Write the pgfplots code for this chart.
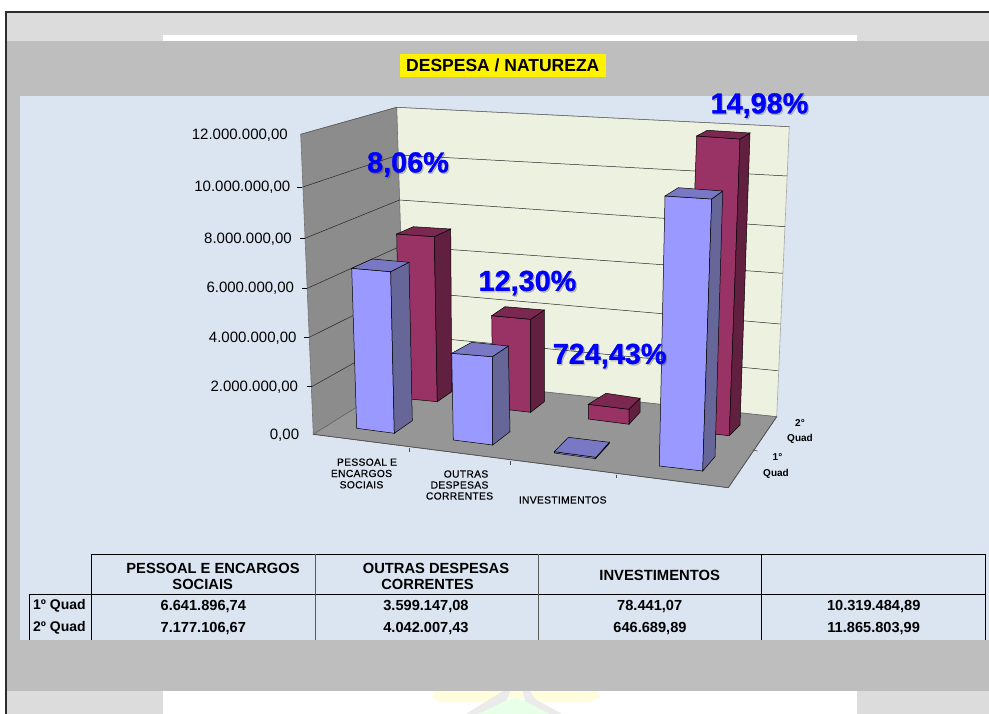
\documentclass[border=0pt]{standalone}
\usepackage{pgfplots}
\pgfplotsset{compat=1.18}
\usepackage{fontspec}
\setmainfont{Liberation Sans}
\newfontfamily\lab{Liberation Sans}[BoldFeatures={FakeBold=1.1}]
\newfontfamily\spc{Liberation Sans}[LetterSpace=3,FakeBold=0.5]
\definecolor{lg}{HTML}{DCDCDC}
\definecolor{mg}{HTML}{BEBEBE}
\definecolor{pale}{HTML}{DBE5F1}
\definecolor{backw}{HTML}{EDF1E0}
\definecolor{sidew}{HTML}{8C8C8C}
\definecolor{floorc}{HTML}{969696}
\definecolor{bf}{HTML}{9999FF}
\definecolor{bs}{HTML}{666699}
\definecolor{bt}{HTML}{7878C4}
\definecolor{mf}{HTML}{993366}
\definecolor{ms}{HTML}{622040}
\definecolor{mt}{HTML}{7A284F}
\newcommand{\fs}[1]{\fontsize{#1}{#1}\selectfont}
% one 3D bar: front, side, top faces, in picture coordinates
\newcommand{\barf}[6]{%
 \addplot[fill=#1,draw=black,line width=.5pt] coordinates {#4} --cycle;
 \addplot[fill=#2,draw=black,line width=.5pt] coordinates {#5} --cycle;
 \addplot[fill=#3,draw=black,line width=.5pt] coordinates {#6} --cycle;}
\newcommand{\pct}[3]{\node[text=black,text opacity=.2,font=\lab\bfseries\fs{28.8}] at (#1+1.2,#2+1.4) {#3};%
 \node[text=blue,font=\lab\bfseries\fs{28.8}] at (#1,#2) {#3};}
\begin{document}
\begin{tikzpicture}
\begin{axis}[scale only axis,width=989pt,height=714pt,xmin=0,xmax=989,ymin=0,ymax=714,
 y dir=reverse,hide axis,clip=true]
% slide background
\addplot[fill=white,draw=none] coordinates {(0,0)(989,0)(989,714)(0,714)} --cycle;
\addplot[fill=lg,draw=none] coordinates {(6,12)(989,12)(989,714)(6,714)} --cycle;
\addplot[fill=white,draw=none] coordinates {(163,35)(857,35)(857,41)(163,41)} --cycle;
\addplot[fill=mg,draw=none] coordinates {(6,41)(989,41)(989,691)(6,691)} --cycle;
\addplot[fill=pale,draw=none] coordinates {(20,96)(989,96)(989,640)(20,640)} --cycle;
\addplot[fill=white,draw=none] coordinates {(163,691)(857,691)(857,714)(163,714)} --cycle;
% faint logo
\addplot[fill=yellow!14!white,draw=none] coordinates {(436,691)(598,691)(600,697)(590,702)(540,702)(525,698)(505,698)(490,702)(440,702)(432,697)} --cycle;
\addplot[fill=green!9!white,draw=none] coordinates {(470,714)(500,702)(515,698)(530,702)(562,714)} --cycle;
\addplot[fill=violet!14!black!8!white,draw=none] coordinates {(503,691)(510,691)(507,700)(478,714)(466,714)(490,699)} --cycle;
\addplot[fill=violet!14!black!8!white,draw=none] coordinates {(523,691)(530,691)(535,699)(562,714)(550,714)(525,701)} --cycle;
\addplot[draw={rgb,255:red,45;green,45;blue,45},line width=2pt] coordinates {(6,714)(6,12)(989,12)};
% walls and floor
\addplot[fill=backw,draw=black!35,line width=.6pt] coordinates {(396.7,107.3)(789.3,126.7)(776.7,416.7)(405,377)} --cycle;
\addplot[fill=sidew,draw=black!55,line width=.6pt] coordinates {(300.7,134.3)(396.7,107.3)(405,377)(313.3,434.3)} --cycle;
\addplot[fill=floorc,draw=black!60,line width=.6pt] coordinates {(313.3,434.3)(405,377)(776.7,416.7)(728.3,487.7)} --cycle;
% gridlines: side wall then back wall
\foreach \a/\b/\c/\d/\e/\f in {
 302/187.3/398/155/787.3/176,
 305/238.3/399.5/200/785/226.7,
 307.3/288.3/401/246/782.7/273.3,
 309.3/337.3/402.3/291/780/324,
 311.7/386.7/403.7/335/777.7/370.7}{
 \edef\tmp{\noexpand\addplot[black!85,line width=.5pt] coordinates {(\a,\b)(\c,\d)(\e,\f)};
  \noexpand\addplot[black,line width=.6pt] coordinates {(\a-5,\b)(\a,\b)};}
 \tmp
}
\addplot[black!65,line width=.5pt] coordinates {(300.7,134.3)(396.7,107.3)(789.3,126.7)};
\addplot[black!70,line width=.6pt] coordinates {(313.3,434.3)(728.3,487.7)(776.7,416.7)};
\addplot[black!70,line width=.6pt] coordinates {(409.3,448)(409.3,452)};
\addplot[black!70,line width=.6pt] coordinates {(510,460.7)(510,464.5)};
\addplot[black!70,line width=.6pt] coordinates {(616.7,474.5)(616.7,478)};
\addplot[black!70,line width=.6pt] coordinates {(753,450)(757.5,451)};
% maroon (2º Quad) bars
\barf{mf}{ms}{mt}
 {(396.7,234)(434.3,236.7)(437.3,401.7)(399.5,398)}
 {(434.3,236.7)(450.7,229)(451.7,391.7)(437.3,401.7)}
 {(396.7,234)(413.3,226.7)(450.7,229)(434.3,236.7)}
\barf{mf}{ms}{mt}
 {(491.7,315.7)(530.7,319.3)(530.7,412.3)(493,408)}
 {(530.7,319.3)(544.3,310)(544.3,401.7)(530.7,412.3)}
 {(491.7,315.7)(505,306.7)(544.3,310)(530.7,319.3)}
\barf{mf}{ms}{mt}
 {(588.3,404.3)(629,409.3)(629,424.3)(588.3,419)}
 {(629,409.3)(640,398.3)(640,412.3)(629,424.3)}
 {(588.3,404.3)(606,393.3)(640,398.3)(629,409.3)}
\barf{mf}{ms}{mt}
 {(696.7,136)(740,139)(729.3,435.7)(686,431)}
 {(740,139)(750,133)(740,425)(729.3,435.7)}
 {(696.7,136)(707.3,130.3)(750,133)(740,139)}
% blue (1º Quad) bars
\barf{bf}{bs}{bt}
 {(351.7,268.3)(390.7,271.7)(394.3,433.3)(356.7,428.3)}
 {(390.7,271.7)(409,262.3)(412.3,420.7)(394.3,433.3)}
 {(351.7,268.3)(372.3,259)(409,262.3)(390.7,271.7)}
\barf{bf}{bs}{bt}
 {(451.7,353.3)(492.3,356.7)(492.7,445)(453.3,440)}
 {(492.3,356.7)(508.3,346)(510,431.7)(492.7,445)}
 {(451.7,353.3)(471.7,342.3)(508.3,346)(492.3,356.7)}
\barf{bf}{bs}{bt}
 {(554.3,451.7)(596,457.3)(595.5,458.6)(554.3,453)}
 {(596,457.3)(609.3,442.3)(609.3,443.5)(595.5,458.6)}
 {(554.3,451.7)(568.3,437.3)(609.3,442.3)(596,457.3)}
\barf{bf}{bs}{bt}
 {(665,196)(711.7,199)(702.7,471)(659.3,466)}
 {(711.7,199)(722.7,191)(715,456.7)(702.7,471)}
 {(665,196)(678.3,187.7)(722.7,191)(711.7,199)}
% axis numbers
\node[anchor=east,inner sep=0,font=\fs{15}] at (288,135) {12.000.000,00};
\node[anchor=east,inner sep=0,font=\fs{15}] at (290.5,187) {10.000.000,00};
\node[anchor=east,inner sep=0,font=\fs{15}] at (292,239) {8.000.000,00};
\node[anchor=east,inner sep=0,font=\fs{15}] at (294.3,288.5) {6.000.000,00};
\node[anchor=east,inner sep=0,font=\fs{15}] at (296.7,338) {4.000.000,00};
\node[anchor=east,inner sep=0,font=\fs{15}] at (298.3,387) {2.000.000,00};
\node[anchor=east,inner sep=0,font=\fs{15}] at (299.3,435) {0,00};
% category labels
\node[align=center,font=\spc\fontsize{10.3}{11.3}\selectfont,inner sep=0] at (361.5,473.5) {\hspace{11pt}PESSOAL E\\ENCARGOS\\SOCIAIS};
\node[align=center,font=\spc\fontsize{10.3}{11}\selectfont,inner sep=0] at (459.5,485) {\hspace{13pt}OUTRAS\\DESPESAS\\CORRENTES};
\node[font=\spc\fs{10.3},inner sep=0] at (562.7,500) {INVESTIMENTOS};
\node[font=\bfseries\fs{10},inner sep=0] at (800,423.3) {2°};
\node[font=\bfseries\fs{10},inner sep=0] at (800,439.3) {Quad};
\node[font=\bfseries\fs{10},inner sep=0] at (777.5,457.3) {1°};
\node[font=\bfseries\fs{10},inner sep=0] at (776,474) {Quad};
% title
\node[fill=yellow,minimum width=205.7pt,minimum height=23pt,inner sep=0,font=\bfseries\fs{17.5}] at (502.8,65.5) {DESPESA / NATUREZA};
% percentages
\pct{759.5}{105.5}{14,98\%}
\pct{408}{164.5}{8,06\%}
\pct{527.5}{283}{12,30\%}
\pct{609.7}{356}{724,43\%}
% table
\addplot[black,line width=.9pt] coordinates {(91,640)(91,554.3)(985.7,554.3)(985.7,640)};
\addplot[black,line width=.9pt] coordinates {(29.5,640)(29.5,594.3)(985.7,594.3)};
\addplot[black!65,line width=.9pt] coordinates {(315,554.3)(315,640)};
\addplot[black!65,line width=.9pt] coordinates {(538.3,554.3)(538.3,640)};
\addplot[black,line width=.9pt] coordinates {(761.7,554.3)(761.7,640)};
\node[align=center,font=\bfseries\fontsize{14.7}{16}\selectfont,inner sep=0] at (213,576) {PESSOAL E ENCARGOS\\\hspace{-20.6pt}SOCIAIS};
\node[align=center,font=\bfseries\fontsize{14.7}{16}\selectfont,inner sep=0] at (436,576) {OUTRAS DESPESAS\\\hspace{-17pt}CORRENTES};
\node[font=\bfseries\fs{14.8},inner sep=0] at (659.7,575) {INVESTIMENTOS};
\node[font=\bfseries\fs{14},inner sep=0] at (59.5,605.7) {1º Quad};
\node[font=\bfseries\fs{14},inner sep=0] at (59.5,628.3) {2º Quad};
\node[font=\bfseries\fs{14.6},inner sep=0] at (203.3,606.5) {6.641.896,74};
\node[font=\bfseries\fs{14.6},inner sep=0] at (203.3,629) {7.177.106,67};
\node[font=\bfseries\fs{14.6},inner sep=0] at (426,606.5) {3.599.147,08};
\node[font=\bfseries\fs{14.6},inner sep=0] at (426,629) {4.042.007,43};
\node[font=\bfseries\fs{14.6},inner sep=0] at (649.7,606.5) {78.441,07};
\node[font=\bfseries\fs{14.6},inner sep=0] at (650,629) {646.689,89};
\node[font=\bfseries\fs{14.6},inner sep=0] at (873.7,606.5) {10.319.484,89};
\node[font=\bfseries\fs{14.6},inner sep=0] at (873.7,629) {11.865.803,99};
\end{axis}
\end{tikzpicture}
\end{document}
